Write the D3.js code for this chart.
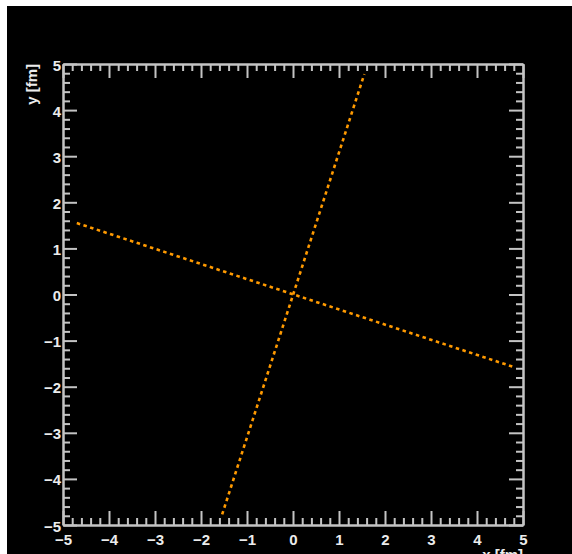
<!DOCTYPE html>
<html>
<head>
<meta charset="utf-8">
<script src="https://cdn.jsdelivr.net/npm/d3@7"></script>
<style>
  html, body { margin: 0; padding: 0; background: #fff; }
  svg { display: block; }
</style>
</head>
<body>
<svg id="chart" width="572" height="554"></svg>
<script>
// Axis ranges and tick values (fm)
const xDomain = [-5, 5];
const yDomain = [-5, 5];
const majorTicks = [-5, -4, -3, -2, -1, 0, 1, 2, 3, 4, 5];
const minorTicks = d3.range(-50, 51, 2).map(v => v / 10).filter(v => !majorTicks.includes(v));

// Two line segments through the origin (x, y in fm)
const lineA = [[-1.54, -4.77], [1.55, 4.78]];
const lineB = [[-4.70, 1.55], [4.82, -1.58]];

const xTitle = "x [fm]";
const yTitle = "y [fm]";

const W = 572, H = 554;
const plot = { left: 63, right: 523, top: 64, bottom: 525 };

const svg = d3.select("#chart");

// canvas background
svg.append("rect").attr("x", 7).attr("y", 6).attr("width", W - 7).attr("height", H - 6).attr("fill", "#000");

const x = d3.scaleLinear().domain(xDomain).range([plot.left, plot.right]);
const y = d3.scaleLinear().domain(yDomain).range([plot.bottom, plot.top]);

const axisColor = "#c4c4c4";
const textColor = "#ececec";
const font = "'Liberation Sans', Arial, Helvetica, sans-serif";
const majorLen = 14, minorLen = 7;

const g = svg.append("g");

// Draw a frame side with inward-pointing ticks
function side(axisGen, transform, tickLen, values, labels) {
  const a = g.append("g").attr("transform", transform)
    .call(axisGen.tickValues(values).tickSize(-tickLen).tickSizeOuter(0)
      .tickFormat(labels ? (d => d3.format("d")(d).replace("-", "\u2212")) : ""));
  a.select(".domain").attr("stroke", axisColor).attr("stroke-width", 2);
  a.selectAll(".tick line").attr("stroke", axisColor).attr("stroke-width", 2);
  a.selectAll(".tick text").attr("fill", textColor).attr("font-family", font)
    .attr("font-weight", "bold").attr("font-size", 15);
  return a;
}

// bottom
side(d3.axisBottom(x), `translate(0,${plot.bottom})`, minorLen, minorTicks, false);
const bx = side(d3.axisBottom(x), `translate(0,${plot.bottom})`, majorLen, majorTicks, true);
bx.selectAll(".tick text").attr("y", 9).attr("dy", "0.71em");
// top
side(d3.axisTop(x), `translate(0,${plot.top})`, minorLen, minorTicks, false);
side(d3.axisTop(x), `translate(0,${plot.top})`, majorLen, majorTicks, false);
// left
side(d3.axisLeft(y), `translate(${plot.left},0)`, minorLen, minorTicks, false);
const ly = side(d3.axisLeft(y), `translate(${plot.left},0)`, majorLen, majorTicks, true);
ly.selectAll(".tick text").attr("x", -2).attr("dy", "0.40em");
// right
side(d3.axisRight(y), `translate(${plot.right},0)`, minorLen, minorTicks, false);
side(d3.axisRight(y), `translate(${plot.right},0)`, majorLen, majorTicks, false);

// dotted lines
const line = d3.line().x(d => x(d[0])).y(d => y(d[1]));
[lineA, lineB].forEach(seg => {
  g.append("path").attr("d", line(seg))
    .attr("fill", "none").attr("stroke", "#ff9a00")
    .attr("stroke-width", 2.6).attr("stroke-dasharray", "3.5,3.5");
});

// axis titles
svg.append("text").attr("x", plot.right).attr("y", 560)
  .attr("text-anchor", "end").attr("fill", textColor)
  .attr("font-family", font).attr("font-weight", "bold").attr("font-size", 15)
  .text(xTitle);
svg.append("text")
  .attr("transform", `translate(37,${plot.top}) rotate(-90)`)
  .attr("text-anchor", "end").attr("fill", textColor)
  .attr("font-family", font).attr("font-weight", "bold").attr("font-size", 15)
  .text(yTitle);
</script>
</body>
</html>
